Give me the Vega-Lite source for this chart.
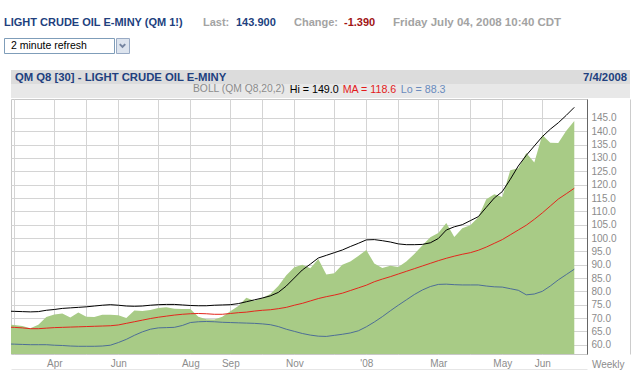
{
  "$schema": "https://vega.github.io/schema/vega-lite/v6.json",
  "padding": {"left": 3, "top": 0, "right": 0, "bottom": 0},
  "background": "white",
  "config": {
    "font": "Liberation Sans",
    "view": {"stroke": null}
  },
  "datasets": {
    "oil": [
      {"date": "2007-02-23", "c": 67.6, "hi": 72.6, "ma": 66.6, "lo": 60.3},
      {"date": "2007-03-02", "c": 67.4, "hi": 72.5, "ma": 66.5, "lo": 60.2},
      {"date": "2007-03-09", "c": 67.0, "hi": 72.4, "ma": 66.3, "lo": 60.1},
      {"date": "2007-03-16", "c": 66.2, "hi": 72.3, "ma": 66.0, "lo": 60.0},
      {"date": "2007-03-23", "c": 67.5, "hi": 72.4, "ma": 66.0, "lo": 60.0},
      {"date": "2007-03-30", "c": 70.4, "hi": 72.9, "ma": 66.2, "lo": 60.0},
      {"date": "2007-04-06", "c": 71.3, "hi": 73.2, "ma": 66.4, "lo": 59.8},
      {"date": "2007-04-13", "c": 71.7, "hi": 73.6, "ma": 66.5, "lo": 59.7},
      {"date": "2007-04-20", "c": 70.2, "hi": 73.8, "ma": 66.6, "lo": 59.5},
      {"date": "2007-04-27", "c": 72.1, "hi": 74.0, "ma": 66.7, "lo": 59.4},
      {"date": "2007-05-04", "c": 70.5, "hi": 74.2, "ma": 66.8, "lo": 59.4},
      {"date": "2007-05-11", "c": 70.4, "hi": 74.5, "ma": 66.9, "lo": 59.4},
      {"date": "2007-05-18", "c": 71.2, "hi": 74.8, "ma": 67.0, "lo": 59.5},
      {"date": "2007-05-25", "c": 71.2, "hi": 75.0, "ma": 67.1, "lo": 59.8},
      {"date": "2007-06-01", "c": 71.0, "hi": 74.8, "ma": 67.4, "lo": 60.8},
      {"date": "2007-06-08", "c": 70.0, "hi": 74.5, "ma": 68.0, "lo": 62.0},
      {"date": "2007-06-15", "c": 72.8, "hi": 74.4, "ma": 68.6, "lo": 63.5},
      {"date": "2007-06-22", "c": 72.6, "hi": 74.5, "ma": 69.2, "lo": 64.8},
      {"date": "2007-06-29", "c": 73.0, "hi": 74.8, "ma": 69.8, "lo": 65.8},
      {"date": "2007-07-06", "c": 73.8, "hi": 75.0, "ma": 70.3, "lo": 66.3},
      {"date": "2007-07-13", "c": 74.0, "hi": 75.1, "ma": 70.7, "lo": 66.4},
      {"date": "2007-07-20", "c": 73.5, "hi": 75.1, "ma": 71.1, "lo": 66.5},
      {"date": "2007-07-27", "c": 73.4, "hi": 74.9, "ma": 71.4, "lo": 67.2},
      {"date": "2007-08-03", "c": 73.4, "hi": 74.7, "ma": 71.6, "lo": 68.3},
      {"date": "2007-08-10", "c": 70.5, "hi": 74.6, "ma": 71.7, "lo": 68.6},
      {"date": "2007-08-17", "c": 69.5, "hi": 74.6, "ma": 71.6, "lo": 68.7},
      {"date": "2007-08-24", "c": 69.4, "hi": 74.8, "ma": 71.4, "lo": 68.6},
      {"date": "2007-08-31", "c": 70.5, "hi": 74.9, "ma": 71.4, "lo": 68.4},
      {"date": "2007-09-07", "c": 72.5, "hi": 75.0, "ma": 71.7, "lo": 68.3},
      {"date": "2007-09-14", "c": 74.5, "hi": 75.4, "ma": 72.0, "lo": 68.2},
      {"date": "2007-09-21", "c": 77.6, "hi": 76.1, "ma": 72.2, "lo": 68.1},
      {"date": "2007-09-28", "c": 76.5, "hi": 76.8, "ma": 72.6, "lo": 68.0},
      {"date": "2007-10-05", "c": 77.5, "hi": 77.5, "ma": 72.9, "lo": 67.8},
      {"date": "2007-10-12", "c": 79.0, "hi": 78.3, "ma": 73.1, "lo": 67.5},
      {"date": "2007-10-19", "c": 82.0, "hi": 79.6, "ma": 73.5, "lo": 66.8},
      {"date": "2007-10-26", "c": 86.0, "hi": 82.0, "ma": 74.0, "lo": 65.8},
      {"date": "2007-11-02", "c": 89.0, "hi": 85.0, "ma": 74.8, "lo": 65.0},
      {"date": "2007-11-09", "c": 90.0, "hi": 88.0, "ma": 75.5, "lo": 64.2},
      {"date": "2007-11-16", "c": 88.7, "hi": 90.2, "ma": 76.4, "lo": 63.6},
      {"date": "2007-11-23", "c": 92.1, "hi": 92.5, "ma": 77.3, "lo": 63.2},
      {"date": "2007-11-30", "c": 86.3, "hi": 93.5, "ma": 78.0, "lo": 63.1},
      {"date": "2007-12-07", "c": 86.8, "hi": 94.5, "ma": 78.6, "lo": 63.5},
      {"date": "2007-12-14", "c": 90.0, "hi": 95.5, "ma": 79.3, "lo": 63.9},
      {"date": "2007-12-21", "c": 91.2, "hi": 96.8, "ma": 80.3, "lo": 64.4},
      {"date": "2007-12-28", "c": 93.3, "hi": 98.0, "ma": 81.3, "lo": 65.2},
      {"date": "2008-01-04", "c": 95.5, "hi": 99.3, "ma": 82.3, "lo": 66.7},
      {"date": "2008-01-11", "c": 90.4, "hi": 99.4, "ma": 83.6, "lo": 68.5},
      {"date": "2008-01-18", "c": 88.8, "hi": 99.0, "ma": 84.6, "lo": 70.5},
      {"date": "2008-01-25", "c": 89.6, "hi": 98.5, "ma": 85.5, "lo": 72.7},
      {"date": "2008-02-01", "c": 89.1, "hi": 97.8, "ma": 86.5, "lo": 74.8},
      {"date": "2008-02-08", "c": 91.2, "hi": 97.5, "ma": 87.5, "lo": 76.8},
      {"date": "2008-02-15", "c": 94.0, "hi": 97.5, "ma": 88.5, "lo": 78.8},
      {"date": "2008-02-22", "c": 97.2, "hi": 97.6, "ma": 89.5, "lo": 80.5},
      {"date": "2008-02-29", "c": 100.3, "hi": 98.2, "ma": 90.5, "lo": 81.8},
      {"date": "2008-03-07", "c": 101.9, "hi": 99.8, "ma": 91.5, "lo": 82.6},
      {"date": "2008-03-14", "c": 105.6, "hi": 103.0, "ma": 92.4, "lo": 82.7},
      {"date": "2008-03-21", "c": 100.4, "hi": 104.2, "ma": 93.2, "lo": 82.5},
      {"date": "2008-03-28", "c": 103.7, "hi": 105.0, "ma": 93.9, "lo": 82.4},
      {"date": "2008-04-04", "c": 104.8, "hi": 106.5, "ma": 94.5, "lo": 82.4},
      {"date": "2008-04-11", "c": 107.8, "hi": 108.0, "ma": 95.4, "lo": 82.4},
      {"date": "2008-04-18", "c": 114.5, "hi": 111.5, "ma": 96.6, "lo": 82.0},
      {"date": "2008-04-25", "c": 116.4, "hi": 115.0, "ma": 98.0, "lo": 81.7},
      {"date": "2008-05-02", "c": 115.4, "hi": 117.4, "ma": 99.4, "lo": 81.6},
      {"date": "2008-05-09", "c": 125.4, "hi": 122.0, "ma": 101.2, "lo": 81.0},
      {"date": "2008-05-16", "c": 126.2, "hi": 127.0, "ma": 103.0, "lo": 80.4},
      {"date": "2008-05-23", "c": 131.9, "hi": 131.0, "ma": 104.8, "lo": 78.7},
      {"date": "2008-05-30", "c": 128.3, "hi": 134.5, "ma": 107.0, "lo": 79.0},
      {"date": "2008-06-06", "c": 138.6, "hi": 138.0, "ma": 109.4, "lo": 80.0},
      {"date": "2008-06-13", "c": 135.7, "hi": 140.8, "ma": 112.0, "lo": 82.0},
      {"date": "2008-06-20", "c": 135.6, "hi": 143.2, "ma": 114.6, "lo": 84.3},
      {"date": "2008-06-27", "c": 140.2, "hi": 146.0, "ma": 116.6, "lo": 86.3},
      {"date": "2008-07-04", "c": 143.9, "hi": 149.0, "ma": 118.65, "lo": 88.3}
    ]
  },
  "spacing": 0,
  "vconcat": [
    {
      "spacing": 0,
      "hconcat": [
        {"width": 199, "height": 37, "data": {"values": [{"t": "LIGHT CRUDE OIL E-MINY (QM 1!)", "side": "L"}]},
         "mark": {"type": "text", "align": "left", "baseline": "middle", "dy": 4, "fontSize": 11, "fontWeight": "bold", "color": "#213f7e"},
         "encoding": {"x": {"field": "side", "type": "nominal", "scale": {"type": "point", "domain": ["L", "R"], "padding": 0}, "axis": null}, "text": {"field": "t"}}},
        {"width": 33, "height": 37, "data": {"values": [{"t": "Last:", "side": "L"}]},
         "mark": {"type": "text", "align": "left", "baseline": "middle", "dy": 4, "fontSize": 11, "fontWeight": "bold", "color": "#a3a3a3"},
         "encoding": {"x": {"field": "side", "type": "nominal", "scale": {"type": "point", "domain": ["L", "R"], "padding": 0}, "axis": null}, "text": {"field": "t"}}},
        {"width": 58, "height": 37, "data": {"values": [{"t": "143.900", "side": "L"}]},
         "mark": {"type": "text", "align": "left", "baseline": "middle", "dy": 4, "fontSize": 11, "fontWeight": "bold", "color": "#213f7e"},
         "encoding": {"x": {"field": "side", "type": "nominal", "scale": {"type": "point", "domain": ["L", "R"], "padding": 0}, "axis": null}, "text": {"field": "t"}}},
        {"width": 50, "height": 37, "data": {"values": [{"t": "Change:", "side": "L"}]},
         "mark": {"type": "text", "align": "left", "baseline": "middle", "dy": 4, "fontSize": 11, "fontWeight": "bold", "color": "#a3a3a3"},
         "encoding": {"x": {"field": "side", "type": "nominal", "scale": {"type": "point", "domain": ["L", "R"], "padding": 0}, "axis": null}, "text": {"field": "t"}}},
        {"width": 49, "height": 37, "data": {"values": [{"t": "-1.390", "side": "L"}]},
         "mark": {"type": "text", "align": "left", "baseline": "middle", "dy": 4, "fontSize": 11, "fontWeight": "bold", "color": "#a11414"},
         "encoding": {"x": {"field": "side", "type": "nominal", "scale": {"type": "point", "domain": ["L", "R"], "padding": 0}, "axis": null}, "text": {"field": "t"}}},
        {"width": 190, "height": 37, "data": {"values": [{"t": "Friday July 04, 2008 10:40 CDT", "side": "L"}]},
         "mark": {"type": "text", "align": "left", "baseline": "middle", "dy": 4, "fontSize": 11.5, "fontWeight": "bold", "color": "#a3a3a3"},
         "encoding": {"x": {"field": "side", "type": "nominal", "scale": {"type": "point", "domain": ["L", "R"], "padding": 0}, "axis": null}, "text": {"field": "t"}}}
      ]
    },
    {
      "spacing": 0,
      "hconcat": [
        {"width": 110, "height": 15, "view": {"fill": "white", "stroke": "#7f9db9"},
         "data": {"values": [{"t": "2 minute refresh", "side": "L"}]},
         "mark": {"type": "text", "align": "left", "baseline": "middle", "dx": 7, "dy": 0, "fontSize": 10.5, "color": "#000000"},
         "encoding": {"x": {"field": "side", "type": "nominal", "scale": {"type": "point", "domain": ["L", "R"], "padding": 0}, "axis": null}, "text": {"field": "t"}}},
        {"width": 13, "height": 15, "view": {"fill": "#dde4ee", "stroke": "#98aac4"}, "data": {"values": [{"k": 1}]},
         "mark": {"type": "point", "shape": "M-1,-0.5L0,0.5L1,-0.5", "size": 30, "filled": false, "stroke": "#4a5d80", "strokeWidth": 2}}
      ]
    },
    {"width": 10, "height": 16, "data": {"values": []}, "mark": "point"},
    {
      "spacing": 0,
      "hconcat": [
        {"width": 6, "height": 1, "data": {"values": []}, "mark": "point"},
        {
          "spacing": 0,
          "vconcat": [
            {
              "width": 619, "height": 14,
              "view": {"fill": "#dcdcdc", "stroke": null},
              "data": {"values": [{"t": "QM Q8 [30] - LIGHT CRUDE OIL E-MINY", "side": "L"}, {"t": "7/4/2008", "side": "R"}]},
              "encoding": {
                "x": {"field": "side", "type": "nominal", "scale": {"type": "point", "domain": ["L", "R"], "padding": 0}, "axis": null},
                "text": {"field": "t"}
              },
              "layer": [
                {"transform": [{"filter": "datum.side === 'L'"}],
                 "mark": {"type": "text", "align": "left", "baseline": "middle", "dx": 4, "dy": 1, "fontSize": 11.3, "fontWeight": "bold", "color": "#21407f"}},
                {"transform": [{"filter": "datum.side === 'R'"}],
                 "mark": {"type": "text", "align": "right", "baseline": "middle", "dx": -3, "dy": 1, "fontSize": 11.3, "fontWeight": "bold", "color": "#21407f"}}
              ]
            },
            {"width": 619, "height": 14, "view": {"fill": "#e8e8e8", "stroke": null}, "data": {"values": []}, "mark": "point"},
            {
              "width": 576, "height": 255,
              "view": {"fill": "white", "stroke": "#c8c8c8"},
              "data": {"name": "oil"},
              "transform": [{"fold": ["c", "hi", "ma", "lo"], "as": ["band", "val"]}],
              "resolve": {"axis": {"x": "independent", "y": "independent"}},
              "layer": [
                {"transform": [{"filter": "datum.band === 'c'"}],
                 "mark": {"type": "area", "color": "#a8cb86", "clip": true, "opacity": 1},
                 "encoding": {
                   "x": {
                     "field": "date", "type": "temporal",
                     "scale": {"domain": [{"year": 2007, "month": 2, "date": 27, "hours": 2, "utc": true}, {"year": 2008, "month": 7, "date": 15, "hours": 3, "utc": true}]},
                     "axis": {
                       "values": [
                         {"year": 2007, "month": 3, "date": 2, "utc": true},
                         {"year": 2007, "month": 4, "date": 6, "utc": true},
                         {"year": 2007, "month": 5, "date": 4, "utc": true},
                         {"year": 2007, "month": 6, "date": 1, "utc": true},
                         {"year": 2007, "month": 7, "date": 6, "utc": true},
                         {"year": 2007, "month": 8, "date": 3, "utc": true},
                         {"year": 2007, "month": 9, "date": 7, "utc": true},
                         {"year": 2007, "month": 10, "date": 5, "utc": true},
                         {"year": 2007, "month": 11, "date": 2, "utc": true},
                         {"year": 2007, "month": 12, "date": 7, "utc": true},
                         {"year": 2008, "month": 1, "date": 4, "utc": true},
                         {"year": 2008, "month": 2, "date": 1, "utc": true},
                         {"year": 2008, "month": 3, "date": 7, "utc": true},
                         {"year": 2008, "month": 4, "date": 4, "utc": true},
                         {"year": 2008, "month": 5, "date": 2, "utc": true},
                         {"year": 2008, "month": 6, "date": 6, "utc": true}
                       ],
                       "labelExpr": "indexof(['2007-04','2007-06','2007-08','2007-09','2007-11','2008-03','2008-05','2008-06'], utcFormat(datum.value, '%Y-%m')) >= 0 ? utcFormat(datum.value, '%b') : (utcFormat(datum.value, '%Y-%m') == '2008-01' ? \"'08\" : '')",
                       "grid": true, "gridColor": "#d4d4d4",
                       "ticks": false, "domain": false,
                       "labelColor": "#8c8c8c", "labelFontSize": 10, "labelPadding": 4,
                       "labelOverlap": false, "labelFlush": false,
                       "title": "Weekly", "titleX": 613, "titleY": 10.5, "titleAlign": "right", "titleBaseline": "middle",
                       "titleColor": "#8c8c8c", "titleFontSize": 10, "titleFontWeight": "normal"
                     }
                   },
                   "y": {
                     "field": "val", "type": "quantitative",
                     "scale": {"domain": [56.51, 152.12], "nice": false, "zero": false},
                     "axis": {
                       "orient": "right",
                       "values": [60, 65, 70, 75, 80, 85, 90, 95, 100, 105, 110, 115, 120, 125, 130, 135, 140, 145],
                       "format": ".1f",
                       "grid": true, "gridColor": "#d4d4d4",
                       "ticks": false, "domain": true, "domainColor": "#666666",
                       "labelColor": "#8c8c8c", "labelFontSize": 10, "labelPadding": 4,
                       "title": null
                     }
                   }
                 }},
                {"transform": [{"filter": "datum.band !== 'c'"}],
                 "mark": {"type": "line", "strokeWidth": 1, "clip": true},
                 "encoding": {
                   "x": {
                     "field": "date", "type": "temporal",
                     "axis": {"orient": "bottom", "offset": 15.5, "domain": true, "domainColor": "#cccccc", "labels": false, "ticks": false, "grid": false, "title": null}
                   },
                   "y": {
                     "field": "val", "type": "quantitative",
                     "axis": {"orient": "right", "offset": 43, "domain": true, "domainColor": "#cccccc", "labels": false, "ticks": false, "grid": false, "title": null}
                   },
                   "color": {
                     "field": "band", "type": "nominal",
                     "scale": {"domain": ["hi", "ma", "lo"], "range": ["#000000", "#e3261d", "#4d6e96"]},
                     "legend": {
                       "orient": "none", "legendX": 189, "legendY": 84,
                       "direction": "horizontal",
                       "title": "BOLL (QM Q8,20,2)", "titleOrient": "left",
                       "titleColor": "#8c8c8c", "titleFontSize": 10.3, "titleFontWeight": "normal", "titlePadding": 4,
                       "labelFontSize": 10.7, "labelOffset": -11,
                       "labelExpr": "datum.value === 'hi' ? 'Hi = 149.0' : datum.value === 'ma' ? 'MA = 118.6' : 'Lo = 88.3'",
                       "symbolSize": 0, "symbolOpacity": 0, "symbolStrokeWidth": 0,
                       "columnPadding": 3, "padding": 0,
                       "encode": {"labels": {"update": {"fill": {"signal": "datum.value === 'hi' ? '#000000' : datum.value === 'ma' ? '#e31b1b' : '#6a8bbd'"}}}}
                     }
                   }
                 }}
              ]
            }
          ]
        }
      ]
    }
  ]
}
